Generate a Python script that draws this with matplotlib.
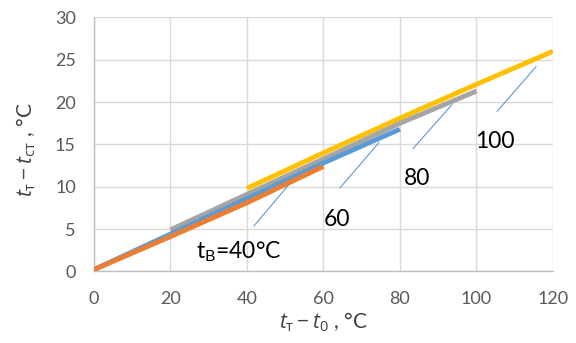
import matplotlib
matplotlib.use("Agg")
import matplotlib.pyplot as plt

# Data
x40 = [0, 20, 40, 60]
y40 = [0.2, 4.1, 8.1, 12.4]
x60 = [0, 20, 40, 60, 80]
y60 = [0.2, 4.4, 8.6, 12.8, 16.8]
x80 = [20, 40, 60, 80, 100]
y80 = [4.9, 9.1, 13.3, 17.5, 21.3]
x100 = [40, 60, 80, 100, 120]
y100 = [9.8, 14.0, 18.1, 22.1, 26.0]

xticks = [0, 20, 40, 60, 80, 100, 120]
yticks = [0, 5, 10, 15, 20, 25, 30]
labels = ["$\\mathregular{t_{В}}$=40°C", "60", "80", "100"]

plt.rcParams['font.family'] = ['Lato', 'Open Sans', 'DejaVu Sans']
plt.rcParams['mathtext.fontset'] = 'custom'
plt.rcParams['mathtext.rm'] = 'Open Sans'
plt.rcParams['mathtext.it'] = 'Open Sans:italic'

fig = plt.figure(figsize=(5.76, 3.43), dpi=100)
ax = fig.add_axes([0.163, 0.209, 0.797, 0.740])

c_or = '#ED7D31'
c_bl = '#5B9BD5'
c_gr = '#A5A5A5'
c_ye = '#FFC000'

ax.plot(x100, y100, color=c_ye, lw=3.5, solid_capstyle='butt', zorder=3)
ax.plot(x80, y80, color=c_gr, lw=3.5, solid_capstyle='butt', zorder=4)
ax.plot(x60, y60, color=c_bl, lw=3.5, solid_capstyle='butt', zorder=5)
ax.plot(x40, y40, color=c_or, lw=3.5, solid_capstyle='butt', zorder=6)

ax.set_xlim(0, 120)
ax.set_ylim(0, 30)
ax.set_xticks(xticks)
ax.set_yticks(yticks)
ax.grid(True, color='#D9D9D9', lw=1)
ax.set_axisbelow(True)
for s in ['top', 'right']:
    ax.spines[s].set_visible(False)
for s in ['left', 'bottom']:
    ax.spines[s].set_color('#BFBFBF')
    ax.spines[s].set_linewidth(1)
ax.tick_params(length=0, labelsize=13, colors='#595959', pad=13)
ax.tick_params(axis='x', pad=14)

# Leader lines and labels
lead = dict(arrowstyle='-', color=c_bl, lw=0.8, shrinkA=0, shrinkB=0)
ax.annotate('', xy=(52.0, 10.8), xytext=(41.8, 5.35), arrowprops=lead)
ax.annotate('', xy=(74.5, 15.2), xytext=(64.3, 9.85), arrowprops=lead)
ax.annotate('', xy=(93.6, 19.7), xytext=(83.4, 14.5), arrowprops=lead)
ax.annotate('', xy=(115.6, 24.2), xytext=(105.4, 18.9), arrowprops=lead)

tk = dict(fontsize=16.5, color='black', ha='center', va='center')
ax.text(37.9, 2.3, labels[0], **tk)
ax.text(63.5, 6.1, labels[1], **tk)
ax.text(84.4, 11.0, labels[2], **tk)
ax.text(104.7, 15.3, labels[3], **tk)

ax.set_ylabel('$t_{\\mathrm{т}} - t_{\\mathrm{ст}}$ , °C', fontsize=15, color='#404040')
ax.set_xlabel('$t_{\\mathrm{т}} - t_{0}$ , °C', fontsize=15, color='#404040')
ax.yaxis.set_label_coords(-0.122, 0.478)
ax.xaxis.set_label_coords(0.5, -0.155)

fig.savefig('out.png', dpi=100)
